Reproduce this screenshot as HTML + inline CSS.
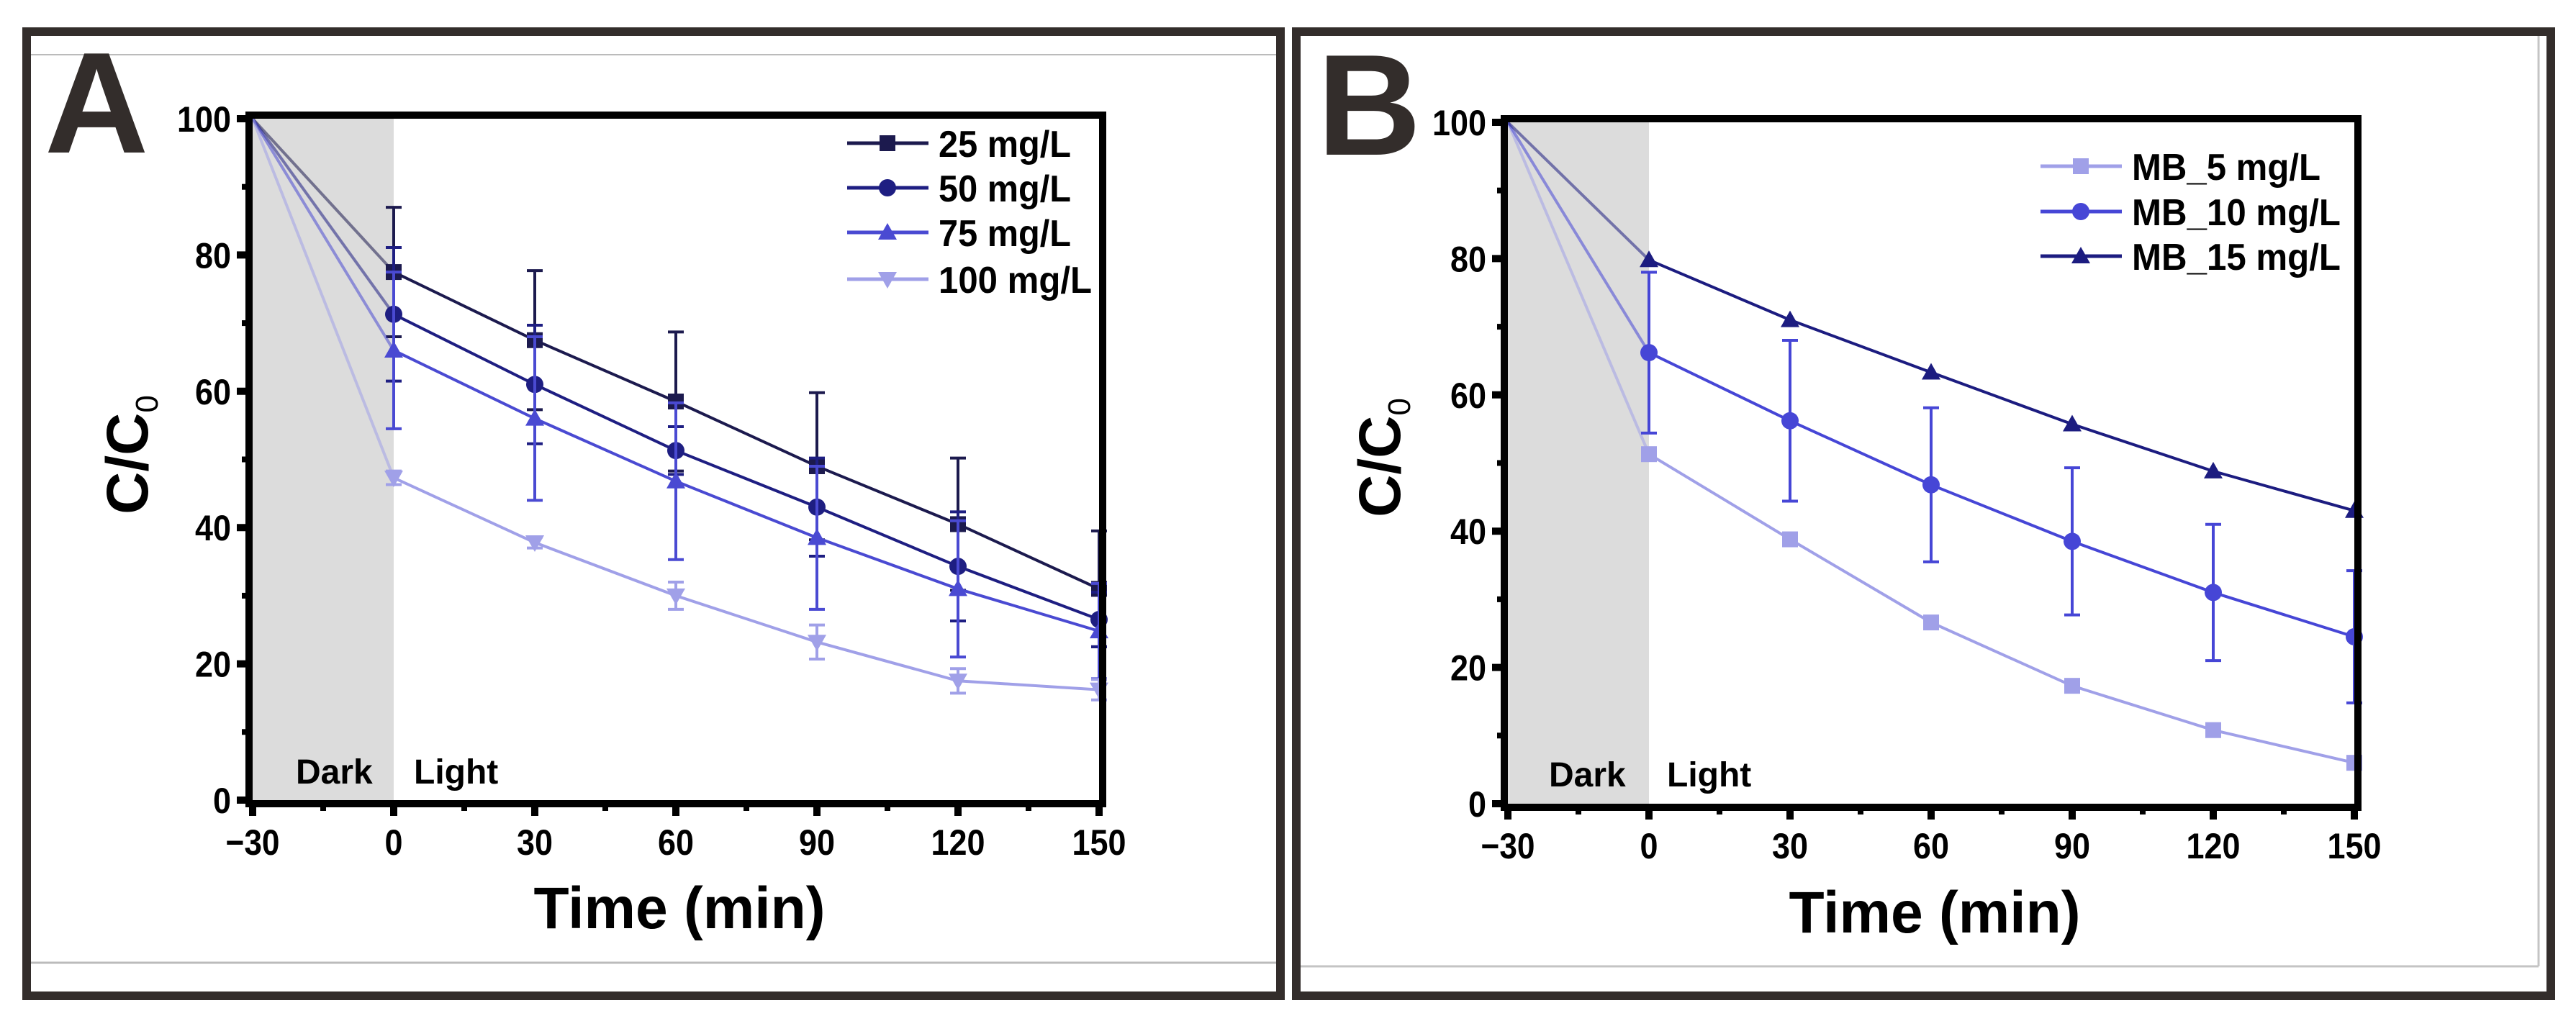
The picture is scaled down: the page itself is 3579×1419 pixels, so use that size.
<!DOCTYPE html>
<html><head><meta charset="utf-8">
<style>
html,body{margin:0;padding:0;background:#fff;}
svg{display:block;}
.tk{font-family:"Liberation Sans",sans-serif;font-weight:bold;font-size:50px;fill:#000;}
.lg{font-family:"Liberation Sans",sans-serif;font-weight:bold;font-size:52px;fill:#000;}
.dl{font-family:"Liberation Sans",sans-serif;font-weight:bold;font-size:48px;fill:#000;}
.ti{font-family:"Liberation Sans",sans-serif;font-weight:bold;font-size:82px;fill:#000;}
.pl{font-family:"Liberation Sans",sans-serif;font-weight:bold;font-size:200px;fill:#332d2b;}
</style></head>
<body>
<svg id="fig" width="3579" height="1419" viewBox="0 0 3579 1419" xmlns="http://www.w3.org/2000/svg">
<rect x="0" y="0" width="3579" height="1419" fill="#fff"/>
<g>
<rect x="37" y="44" width="1742" height="1340" fill="none" stroke="#332d2b" stroke-width="12"/>
<line x1="43" y1="76" x2="1773" y2="76" stroke="#bbb" stroke-width="2"/>
<line x1="43" y1="1338" x2="1773" y2="1338" stroke="#bbb" stroke-width="3"/>
</g>
<g>
<rect x="1801" y="44" width="1743" height="1340" fill="none" stroke="#332d2b" stroke-width="12"/>
<line x1="1807" y1="1343" x2="3527" y2="1343" stroke="#c4c4c4" stroke-width="3"/>
<line x1="3527" y1="50" x2="3527" y2="1343" stroke="#c4c4c4" stroke-width="3"/>
</g>
<text class="pl" x="62" y="212">A</text>
<text class="pl" x="1830" y="215">B</text>
<g id="chartA"></g>
<g id="chartB"></g>
</svg>
<script>
// Shared axis data
const xTicks = [-30, 0, 30, 60, 90, 120, 150];
const yTicks = [0, 20, 40, 60, 80, 100];
const times = [0, 30, 60, 90, 120, 150];

// Panel A data
const aNames = ["25 mg/L", "50 mg/L", "75 mg/L", "100 mg/L"];
const a25 = [77.5, 67.5, 58.5, 49.0, 40.5, 31.0];
const a25Err = [9.5, 10.2, 10.2, 10.8, 9.7, 8.5];
const a50 = [71.3, 61.0, 51.3, 43.0, 34.3, 26.5];
const a50Err = [9.8, 8.7, 3.5, 7.2, 8.0, 4.0];
const a75 = [66.0, 56.0, 46.8, 38.5, 31.0, 24.8];
const a75Err = [11.5, 12.0, 11.5, 10.5, 10.0, 7.0];
const a100 = [47.3, 37.8, 30.0, 23.2, 17.5, 16.2];
const a100Err = [1.0, 0.8, 2.0, 2.5, 1.8, 1.5];
const aColors = ["#1c1a4e", "#1e1e82", "#4a4ad2", "#a0a0e8"];
const aMarkers = ["square", "circle", "triangle", "tridown"];

// Panel B data
const bNames = ["MB_5 mg/L", "MB_10 mg/L", "MB_15 mg/L"];
const b5 = [51.3, 38.8, 26.6, 17.3, 10.8, 6.0];
const b5Err = [0.8, 0.8, 0.8, 0.8, 0.8, 0.8];
const b10 = [66.2, 56.2, 46.8, 38.5, 31.0, 24.5];
const b10Err = [11.8, 11.8, 11.3, 10.8, 10.0, 9.7];
const b15 = [79.8, 71.0, 63.3, 55.7, 48.8, 43.0];
const b15Err = [0, 0, 0, 0, 0, 0];
const bColors = ["#a0a0e8", "#4646d6", "#1c1c80"];
const bMarkers = ["square", "circle", "triangle"];

const NS = "http://www.w3.org/2000/svg";
function mk(tag, attrs, parent) {
  const e = document.createElementNS(NS, tag);
  for (const k in attrs) e.setAttribute(k, attrs[k]);
  parent.appendChild(e);
  return e;
}
function marker(g, type, cx, cy, color) {
  let m;
  if (type === "square") m = mk("rect", {x: cx - 11, y: cy - 11, width: 22, height: 22, fill: color}, g);
  else if (type === "circle") m = mk("circle", {cx: cx, cy: cy, r: 12, fill: color}, g);
  else if (type === "triangle") m = mk("polygon", {points: `${cx},${cy - 13} ${cx - 13},${cy + 10} ${cx + 13},${cy + 10}`, fill: color}, g);
  else m = mk("polygon", {points: `${cx},${cy + 13} ${cx - 13},${cy - 10} ${cx + 13},${cy - 10}`, fill: color}, g);
  return m;
}
function tickLen(s) { return s.length * 25; }

function drawChart(root, cfg) {
  const X = t => cfg.x0 + (t - (-30)) * (cfg.x1 - cfg.x0) / 180;
  const Y = v => cfg.y0 - v * (cfg.y0 - cfg.y1) / 100;
  const sh = mk("rect", {x: X(-30), y: Y(100), width: X(0) - X(-30), height: Y(0) - Y(100), fill: "#dcdcdc"}, root);
  
  
  cfg.series.forEach((s, i) => {
    const g = mk("g", {}, root);
    
    
    const d = mk("line", {x1: X(-30), y1: Y(100), x2: X(times[0]), y2: Y(s.vals[0]), stroke: s.color, "stroke-width": 4, "stroke-opacity": 0.55}, g);
    
    
    const pts = s.vals.map((v, j) => X(times[j]) + "," + Y(v)).join(" ");
    const pl = mk("polyline", {points: pts, fill: "none", stroke: s.color, "stroke-width": 4}, g);
    
    
    s.vals.forEach((v, j) => {
      const e = s.err[j];
      if (e > 0) {
        const eb = mk("g", {stroke: s.color, "stroke-width": 4}, g);
        
        
        const cx = X(times[j]);
        mk("line", {x1: cx, y1: Y(v + e), x2: cx, y2: Y(v - e)}, eb);
        mk("line", {x1: cx - 11, y1: Y(v + e), x2: cx + 11, y2: Y(v + e)}, eb);
        mk("line", {x1: cx - 11, y1: Y(v - e), x2: cx + 11, y2: Y(v - e)}, eb);
      }
      const m = marker(g, s.marker, X(times[j]), Y(v), s.color);
      
      
    });
  });
  const fr = mk("rect", {x: X(-30) - 5, y: Y(100) - 5, width: X(150) - X(-30) + 10, height: Y(0) - Y(100) + 10, fill: "none", stroke: "#000", "stroke-width": 10}, root);
  
  
  const xa = mk("g", {}, root);
  
  
  xTicks.forEach((t, j) => {
    mk("line", {x1: X(t), y1: Y(0) + 5, x2: X(t), y2: Y(0) + 22, stroke: "#000", "stroke-width": 10}, xa);
    if (j < xTicks.length - 1) mk("line", {x1: X(t + 15), y1: Y(0) + 5, x2: X(t + 15), y2: Y(0) + 15, stroke: "#000", "stroke-width": 8}, xa);
    const lab = t < 0 ? "\u2212" + Math.abs(t) : String(t);
    const tx = mk("text", {x: X(t), y: cfg.tickY, "text-anchor": "middle", class: "tk", textLength: tickLen(lab), lengthAdjust: "spacingAndGlyphs"}, xa);
    tx.textContent = lab;
    
    
  });
  const ya = mk("g", {}, root);
  
  
  yTicks.forEach((v, j) => {
    mk("line", {x1: X(-30) - 5, y1: Y(v), x2: X(-30) - 22, y2: Y(v), stroke: "#000", "stroke-width": 10}, ya);
    if (j < yTicks.length - 1) mk("line", {x1: X(-30) - 5, y1: Y(v + 10), x2: X(-30) - 15, y2: Y(v + 10), stroke: "#000", "stroke-width": 8}, ya);
    const lab = String(v);
    const tx = mk("text", {x: X(-30) - 30, y: Y(v) + 18, "text-anchor": "end", class: "tk", textLength: tickLen(lab), lengthAdjust: "spacingAndGlyphs"}, ya);
    tx.textContent = lab;
    
    
  });
  const dk = mk("text", {x: cfg.darkX, y: cfg.dlY, class: "dl"}, root);
  dk.textContent = "Dark";
  
  
  const lt = mk("text", {x: cfg.lightX, y: cfg.dlY, class: "dl"}, root);
  lt.textContent = "Light";
  
  
  const xt = mk("text", {x: cfg.xTitleX, y: cfg.xTitleY, "text-anchor": "middle", class: "ti", textLength: 405, lengthAdjust: "spacingAndGlyphs"}, root);
  xt.textContent = "Time (min)";
  
  
  const yt = mk("text", {x: 0, y: 0, "text-anchor": "middle", class: "ti", transform: `translate(${cfg.yTitleX},${cfg.yTitleY}) rotate(-90)`}, root);
  yt.textContent = "C/C";
  const sub = mk("tspan", {"font-size": "44px", "font-weight": "normal", dy: "14"}, yt);
  sub.textContent = "0";
  
  
  const lg = mk("g", {}, root);
  
  
  cfg.series.forEach((s, i) => {
    const ry = cfg.legY[i];
    const e = mk("g", {}, lg);
    
    
    mk("line", {x1: cfg.legX, y1: ry, x2: cfg.legX + 113, y2: ry, stroke: s.color, "stroke-width": 5}, e);
    marker(e, s.marker, cfg.legX + 56, ry, s.color);
    const tx = mk("text", {x: cfg.legX + 127, y: ry + 19, class: "lg", textLength: cfg.legW[i], lengthAdjust: "spacingAndGlyphs"}, e);
    tx.textContent = s.name;
  });
}

drawChart(document.getElementById("chartA"), {
  x0: 351, x1: 1527, y0: 1112, y1: 165, tickY: 1188,
  darkX: 411, lightX: 575, dlY: 1089,
  xTitleX: 944, xTitleY: 1290, yTitleX: 205, yTitleY: 632,
  legX: 1177, legY: [199, 261, 323, 388], legW: [184, 184, 184, 213],
  series: [
    {name: aNames[0], vals: a25, err: a25Err, color: aColors[0], marker: aMarkers[0]},
    {name: aNames[1], vals: a50, err: a50Err, color: aColors[1], marker: aMarkers[1]},
    {name: aNames[2], vals: a75, err: a75Err, color: aColors[2], marker: aMarkers[2]},
    {name: aNames[3], vals: a100, err: a100Err, color: aColors[3], marker: aMarkers[3]}
  ]
});
drawChart(document.getElementById("chartB"), {
  x0: 2095, x1: 3271, y0: 1117, y1: 170, tickY: 1193,
  darkX: 2152, lightX: 2316, dlY: 1093,
  xTitleX: 2688, xTitleY: 1296, yTitleX: 1945, yTitleY: 636,
  legX: 2835, legY: [231, 294, 356], legW: [262, 290, 290],
  series: [
    {name: bNames[0], vals: b5, err: b5Err, color: bColors[0], marker: bMarkers[0]},
    {name: bNames[1], vals: b10, err: b10Err, color: bColors[1], marker: bMarkers[1]},
    {name: bNames[2], vals: b15, err: b15Err, color: bColors[2], marker: bMarkers[2]}
  ]
});
</script>
</body></html>
